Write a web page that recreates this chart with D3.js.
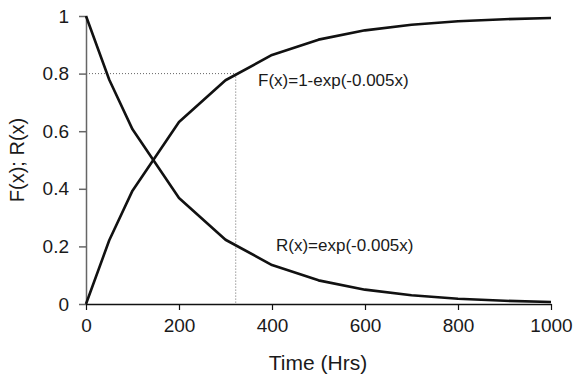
<!DOCTYPE html>
<html>
<head>
<meta charset="utf-8">
<script src="https://cdn.jsdelivr.net/npm/d3@7"></script>
<style>
  html, body { margin: 0; padding: 0; background: #fff; }
  svg text { font-family: "Liberation Sans", Arial, Helvetica, sans-serif; fill: #1a1a1a; }
</style>
</head>
<body>
<svg id="chart" width="575" height="374"></svg>
<script>
// Sample times (hours) and the two curves evaluated there
const hours = [0, 50, 100, 200, 300, 400, 500, 600, 700, 800, 900, 1000];
const failureF = [0, 0.2212, 0.3935, 0.6321, 0.7769, 0.8647, 0.9179, 0.9502, 0.9698, 0.9817, 0.9889, 0.9933];
const reliabilityR = [1, 0.7788, 0.6065, 0.3679, 0.2231, 0.1353, 0.0821, 0.0498, 0.0302, 0.0183, 0.0111, 0.0067];

// Axis ticks
const xTicks = [0, 200, 400, 600, 800, 1000];
const yTicks = [0, 0.2, 0.4, 0.6, 0.8, 1];

// Reference guide: time at which F reaches 0.8
const guideProb = [0.8];
const guideTime = [322];

// Curve labels
const curveLabels = ["F(x)=1-exp(-0.005x)", "R(x)=exp(-0.005x)"];

const svg = d3.select("#chart");
const mLeft = 86, mRight = 551, mTop = 16, mBottom = 304;

const x = d3.scaleLinear().domain([0, 1000]).range([mLeft, mRight]);
const y = d3.scaleLinear().domain([0, 1]).range([mBottom, mTop]);

// Dotted guide lines
svg.append("line")
  .attr("x1", x(0)).attr("x2", x(guideTime[0]))
  .attr("y1", y(guideProb[0])).attr("y2", y(guideProb[0]))
  .attr("stroke", "#666").attr("stroke-width", 1).attr("stroke-dasharray", "1,2");
svg.append("line")
  .attr("x1", x(guideTime[0])).attr("x2", x(guideTime[0]))
  .attr("y1", y(guideProb[0])).attr("y2", y(0))
  .attr("stroke", "#666").attr("stroke-width", 1).attr("stroke-dasharray", "1,2");

// Y axis (grey)
const yAxis = svg.append("g")
  .attr("transform", `translate(${mLeft},0)`)
  .call(d3.axisLeft(y).tickValues(yTicks).tickSize(7).tickPadding(10).tickSizeOuter(0)
    .tickFormat(d => d === 0 || d === 1 ? String(d) : d3.format(".1f")(d)));
yAxis.select(".domain").attr("stroke", "#666").attr("stroke-width", 1.5);
yAxis.selectAll(".tick line").attr("stroke", "#666").attr("stroke-width", 1.5);
yAxis.selectAll("text").attr("font-size", 19).attr("fill", "#1a1a1a");

// X axis (black)
const xAxis = svg.append("g")
  .attr("transform", `translate(0,${mBottom})`)
  .call(d3.axisBottom(x).tickValues(xTicks).tickSize(6).tickPadding(9).tickSizeOuter(0)
    .tickFormat(d3.format("d")));
xAxis.select(".domain").attr("stroke", "#111").attr("stroke-width", 1.5);
xAxis.selectAll(".tick line").attr("stroke", "#111").attr("stroke-width", 1.2);
xAxis.selectAll("text").attr("font-size", 19).attr("fill", "#1a1a1a");

// Curves
const line = d3.line().x(d => x(d[0])).y(d => y(d[1]));
[failureF, reliabilityR].forEach(vals => {
  svg.append("path")
    .datum(hours.map((h, i) => [h, vals[i]]))
    .attr("d", line)
    .attr("fill", "none")
    .attr("stroke", "#111")
    .attr("stroke-width", 2.6)
    .attr("stroke-linejoin", "round");
});

// Curve labels
svg.append("text").attr("x", 258).attr("y", 86)
  .attr("font-size", 17).text(curveLabels[0]);
svg.append("text").attr("x", 276).attr("y", 251)
  .attr("font-size", 17).text(curveLabels[1]);

// Axis titles
svg.append("text")
  .attr("x", 318).attr("y", 370)
  .attr("text-anchor", "middle").attr("font-size", 21)
  .text("Time (Hrs)");
svg.append("text")
  .attr("transform", `translate(24,160) rotate(-90)`)
  .attr("text-anchor", "middle").attr("font-size", 20)
  .text("F(x); R(x)");
</script>
</body>
</html>
